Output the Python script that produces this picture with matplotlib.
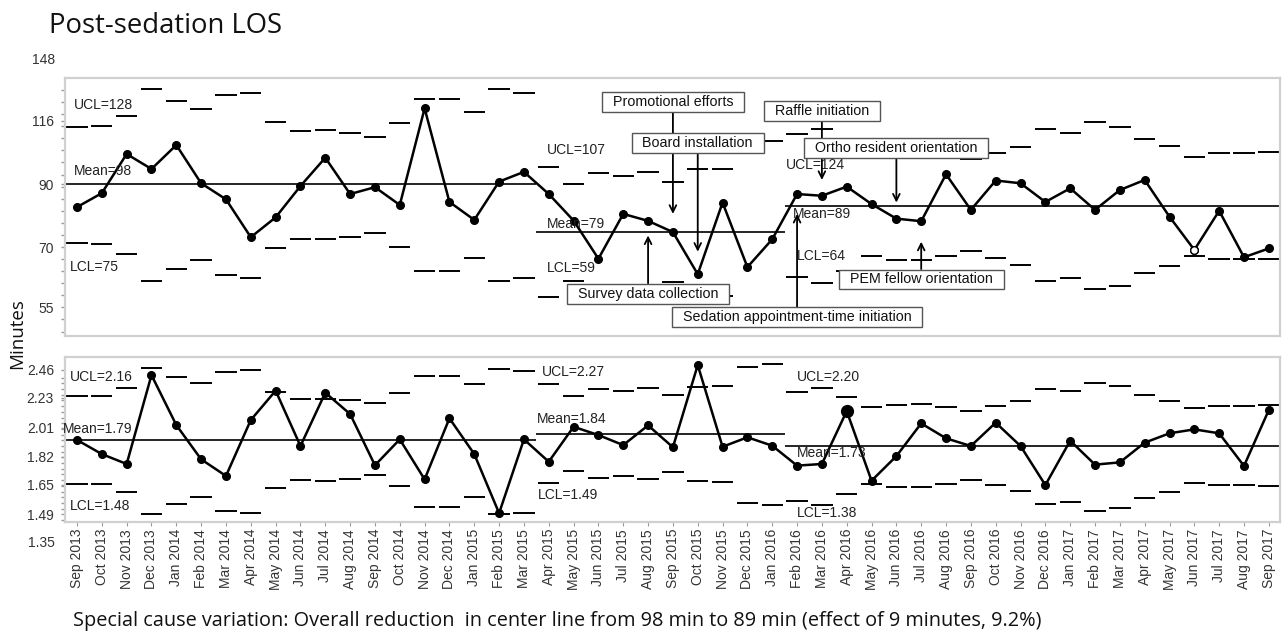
import matplotlib
matplotlib.use('Agg')
import matplotlib.pyplot as plt
from matplotlib.ticker import FixedLocator, NullFormatter
import numpy as np
import pandas as pd

# ---- data ----
months = list(pd.date_range('2013-09-01', '2017-09-01', freq='MS').strftime('%b %Y'))
phase_start = [0, 19, 29]          # Sep 2013, Apr 2015, Feb 2016

# top panel: post-sedation LOS (minutes)
los = [82.1, 86.8, 101.5, 95.6, 105.2, 90.3, 84.7, 72.8, 78.8, 89.3, 100.0, 86.5, 88.9,
       82.8, 121.8, 83.8, 78.0, 90.9, 94.5,
       86.5, 77.8, 66.8, 79.9, 77.7, 74.3, 62.8, 83.6, 64.6, 72.2,
       86.5, 85.9, 89.1, 83.1, 78.4, 77.6, 93.6, 81.2, 91.3, 90.3, 83.8, 88.5, 81.2, 87.9,
       91.5, 79.0, 69.2, 80.9, 67.2, 69.6]
los_ucl = [113.1, 113.5, 118.2, 131.5, 125.6, 121.4, 128.5, 129.7, 115.4, 111.3, 111.7, 110.3,
           108.8, 114.8, 126.3, 126.3, 120.2, 131.5, 129.7,
           96.3, 90.1, 94.2, 93.1, 94.6, 90.8, 95.6, 95.6, 106.5, 107.1,
           110.0, 112.2, 107.1, 100.9, 102.6, 102.6, 101.2, 99.5, 101.8, 104.5, 112.0, 110.5,
           115.4, 113.2, 107.9, 104.8, 100.4, 102.1, 101.8, 102.2]
los_lcl = [71.1, 70.8, 68.1, 61.2, 64.2, 66.5, 62.5, 61.9, 69.7, 72.4, 72.2, 73.0, 74.1,
           70.1, 63.7, 63.7, 66.9, 61.2, 61.8,
           57.3, 61.2, 58.6, 59.3, 58.3, 60.8, 57.7, 57.6, 51.8, 51.5,
           62.0, 60.7, 63.7, 67.6, 66.5, 66.5, 67.4, 69.0, 66.9, 65.2, 61.0, 61.8, 59.1, 59.9,
           63.2, 64.9, 67.6, 66.8, 66.8, 66.7]
los_mean = [90.0, 74.3, 82.6]
los_ticks = [55, 70, 90, 116, 148]
los_open = [45]                     # hollow marker (Jun 2017)

# bottom panel
sd = [1.928, 1.836, 1.774, 2.414, 2.030, 1.803, 1.702, 2.066, 2.287, 1.888, 2.271, 2.109, 1.766,
      1.932, 1.682, 2.078, 1.836, 1.496, 1.932,
      1.788, 2.018, 1.961, 1.894, 2.028, 1.880, 2.499, 1.883, 1.946, 1.890,
      1.764, 1.774, 2.131, 1.674, 1.823, 2.042, 1.939, 1.888, 2.047, 1.888, 1.649, 1.923,
      1.770, 1.784, 1.910, 1.973, 2.000, 1.973, 1.762, 2.139]
sd_ucl = [2.247, 2.247, 2.305, 2.471, 2.395, 2.346, 2.437, 2.456, 2.279, 2.222, 2.222, 2.212,
          2.189, 2.266, 2.406, 2.406, 2.338, 2.467, 2.450,
          2.338, 2.245, 2.300, 2.287, 2.305, 2.253, 2.318, 2.324, 2.485, 2.508,
          2.279, 2.305, 2.235, 2.159, 2.176, 2.181, 2.159, 2.134, 2.168, 2.209, 2.297, 2.284,
          2.351, 2.324, 2.253, 2.209, 2.151, 2.168, 2.168, 2.174]
sd_lcl = [1.655, 1.655, 1.608, 1.490, 1.544, 1.584, 1.509, 1.499, 1.634, 1.678, 1.674, 1.682,
          1.708, 1.645, 1.530, 1.530, 1.584, 1.490, 1.499,
          1.663, 1.733, 1.690, 1.702, 1.682, 1.727, 1.672, 1.668, 1.551, 1.539,
          1.561, 1.539, 1.599, 1.655, 1.640, 1.640, 1.655, 1.678, 1.648, 1.616, 1.544, 1.555,
          1.507, 1.525, 1.578, 1.612, 1.659, 1.649, 1.649, 1.645]
sd_mean = [1.928, 1.968, 1.888]
sd_ticks = [1.35, 1.49, 1.65, 1.82, 2.01, 2.23, 2.46]
sd_big = [31]                       # enlarged marker (Apr 2016)

los_labels = [("UCL=128", "Mean=98", "LCL=75"),
              ("UCL=107", "Mean=79", "LCL=59"),
              ("UCL=124", "Mean=89", "LCL=64")]
sd_labels = [("UCL=2.16", "Mean=1.79", "LCL=1.48"),
             ("UCL=2.27", "Mean=1.84", "LCL=1.49"),
             ("UCL=2.20", "Mean=1.73", "LCL=1.38")]

events = ["Promotional efforts", "Board installation", "Survey data collection",
          "Sedation appointment-time initiation", "Raffle initiation",
          "Ortho resident orientation", "PEM fellow orientation"]
event_month = [24, 25, 23, 29, 30, 33, 34]

# ---- layout ----
W, H = 1282, 632
FONT = 'Liberation Sans'
x = np.arange(len(months))
xlim = (-0.483, 48.45)
edges = [xlim[0], 18.5, 28.5, xlim[1]]

fig = plt.figure(figsize=(W / 100, H / 100), dpi=100)
ax1 = fig.add_axes([65 / W, 1 - 336 / H, 1215 / W, 258 / H])
ax2 = fig.add_axes([65 / W, 1 - 522 / H, 1215 / W, 165 / H])


def draw_panel(ax, vals, ucl, lcl, means, ticks, ylim, labels, label_pos):
    ax.set_yscale('log')
    ax.set_xlim(*xlim)
    ax.set_ylim(*ylim)
    ax.plot(x, vals, color='black', lw=1.8, marker='o', ms=5.5, zorder=3)
    ax.hlines(ucl, x - 0.43, x + 0.43, color='black', lw=1.4, zorder=2)
    ax.hlines(lcl, x - 0.43, x + 0.43, color='black', lw=1.4, zorder=2)
    for i, m in enumerate(means):
        ax.hlines(m, edges[i], edges[i + 1], color='black', lw=1.2, zorder=2)
        for txt, (px, py) in zip(labels[i], label_pos[i]):
            ax.text(px, py, txt, ha='left', va='center', fontsize=10,
                    family=FONT, color='#222222', zorder=4, clip_on=False)
    inside = [t for t in ticks if ylim[0] < t < ylim[1]]
    ax.set_yticks(inside)
    ax.set_yticklabels([str(t) for t in inside])
    for t in ticks:
        if not ylim[0] < t < ylim[1]:
            ax.text(-0.0085, t, str(t), transform=ax.get_yaxis_transform(),
                    ha='right', va='center', fontsize=10, family=FONT,
                    color='#333333', clip_on=False)
    r = ticks[1] / ticks[0]
    ax.yaxis.set_minor_locator(FixedLocator(ticks[0] * r ** (np.arange(-10, 30) / 5)))
    ax.yaxis.set_minor_formatter(NullFormatter())
    ax.tick_params(axis='y', which='both', direction='out', length=3, width=1,
                   color='#999999', labelsize=10, labelcolor='#333333', pad=5)
    for lab in ax.get_yticklabels():
        lab.set_family(FONT)
    for s in ax.spines.values():
        s.set_color('#d0d0d0')
        s.set_linewidth(1.6)


draw_panel(ax1, los, los_ucl, los_lcl, los_mean, los_ticks, (49.06, 137.5), los_labels,
           [[(-0.12, 123.5), (-0.12, 95.0), (-0.28, 64.7)],
            [(18.93, 103.2), (18.93, 76.7), (18.93, 64.3)],
            [(28.55, 97.2), (28.84, 79.9), (29.0, 67.6)]])
draw_panel(ax2, sd, sd_ucl, sd_lcl, sd_mean, sd_ticks, (1.451, 2.570), sd_labels,
           [[(-0.28, 2.395), (-0.56, 2.000), (-0.28, 1.535)],
            [(18.71, 2.442), (18.51, 2.073), (18.57, 1.593)],
            [(28.98, 2.395), (28.98, 1.845), (28.98, 1.496)]])

for i in los_open:
    ax1.plot(x[i], los[i], 'o', ms=5.5, mfc='white', mec='black', mew=1, zorder=4)
for i in sd_big:
    ax2.plot(x[i], sd[i], 'o', ms=8.5, color='black', zorder=4)

ax1.set_xticks([])
ax2.set_xticks(x)
ax2.set_xticklabels(months, rotation=90, family=FONT, fontsize=10, color='#333333')
ax2.tick_params(axis='x', length=3, color='#999999', pad=2)

# event annotations: box centre and arrow tip on the LOS scale
box_y = [124.9, 106.1, 58.1, 52.9, 120.5, 103.9, 61.5]
tip_y = [79.9, 68.7, 73.3, 79.9, 91.5, 83.6, 71.5]
zord = [5, 6, 5, 5, 5, 6, 5]
for name, m, by, ty, z in zip(events, event_month, box_y, tip_y, zord):
    ax1.annotate('  ' + name + '  ', xy=(m, ty), xytext=(m, by), ha='center', va='center',
                 fontsize=10.3, family=FONT, color='#111111', zorder=z,
                 bbox=dict(boxstyle='square,pad=0.2', fc='white', ec='#555555', lw=1.0),
                 arrowprops=dict(arrowstyle='->', color='black', lw=1.3,
                                 shrinkA=0, shrinkB=0, mutation_scale=12))

fig.text(49 / W, 1 - 33 / H, 'Post-sedation LOS', family='Open Sans', fontsize=19.8,
         va='baseline', ha='left', color='#111111')
fig.text(17 / W, 1 - 334 / H, 'Minutes', family='Open Sans', fontsize=13.5, rotation=90,
         ha='center', va='center', color='#111111')
fig.text(73 / W, 1 - 626 / H,
         'Special cause variation: Overall reduction  in center line from 98 min to 89 min '
         '(effect of 9 minutes, 9.2%)',
         family='Open Sans', fontsize=14.3, va='baseline', ha='left', color='#111111')

fig.savefig('out.png', dpi=100)
